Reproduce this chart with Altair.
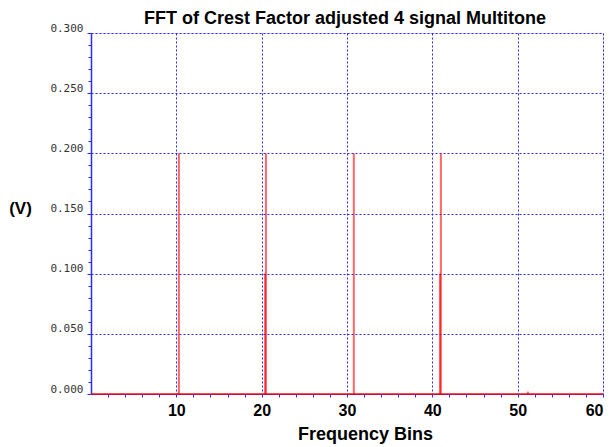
import altair as alt
import pandas as pd

# --- data ---
spike_freqs = [10.3, 20.5, 30.8, 41.0]
spike_amps = [0.2, 0.2, 0.2, 0.2]
side_freqs = [20.4, 40.9]
side_amps = [0.1, 0.1]
tiny_freqs = [51.2]
tiny_amps = [0.002]
x_ticks = [10, 20, 30, 40, 50, 60]
y_ticks = [0.0, 0.05, 0.1, 0.15, 0.2, 0.25, 0.3]
x_minor = [v for v in range(2, 61, 2) if v % 10 != 0]
y_minor = [round(i * 0.01, 2) for i in range(0, 31) if i % 5 != 0]

spikes = pd.DataFrame({
    "f": spike_freqs + side_freqs + tiny_freqs,
    "a": spike_amps + side_amps + tiny_amps,
})
baseline = pd.DataFrame({"x0": [0], "x1": [60], "y": [0.0]})

BLUE = "#2b2bff"
RED = "#ff0000"

xscale = alt.Scale(domain=[0, 60], nice=False, zero=True)
yscale = alt.Scale(domain=[0, 0.3], nice=False)

major_x = alt.Axis(values=x_ticks, title="Frequency Bins", grid=True, gridColor=BLUE,
                   gridDash=[2, 2], gridWidth=1, gridOpacity=1, domainColor=BLUE,
                   tickColor=BLUE, tickSize=3, labelFont="Liberation Sans",
                   labelFontSize=16, labelFontWeight="bold", labelColor="#000",
                   labelPadding=5, titleFont="Liberation Sans", titleFontSize=18,
                   titleFontWeight="bold", titleColor="#000", titlePadding=7,
                   titleX=274, titleAlign="center")
major_y = alt.Axis(values=y_ticks, format=".3f", title="(V)", grid=True, gridColor=BLUE,
                   gridDash=[2, 2], gridWidth=1, gridOpacity=1, domainColor=BLUE,
                   domainWidth=1.5, tickColor=BLUE, tickSize=4, labelFont="DejaVu Sans Mono",
                   labelFontSize=11, labelColor="#333", labelBaseline="bottom",
                   labelPadding=4, titleAngle=0, titleFont="Liberation Sans",
                   titleFontSize=17, titleFontWeight="bold", titleColor="#000",
                   titleX=-71, titleY=175, titleAlign="center", titleBaseline="middle")
minor_x = alt.Axis(values=x_minor, orient="bottom", labels=False, grid=False, domain=False,
                   ticks=True, tickColor=BLUE, tickSize=3, title=None)
minor_y = alt.Axis(values=y_minor, orient="left", labels=False, grid=False, domain=False,
                   ticks=True, tickColor=BLUE, tickSize=3, title=None)

base_rule = alt.Chart(baseline).mark_rule(color=RED, strokeWidth=2, opacity=0.7).encode(
    x=alt.X("x0:Q", scale=xscale, axis=minor_x),
    x2="x1:Q",
    y=alt.Y("y:Q", scale=yscale, axis=minor_y),
)

spike_rules = alt.Chart(spikes).mark_rule(color=RED, strokeWidth=2, opacity=0.6).encode(
    x=alt.X("f:Q", scale=xscale, axis=major_x),
    y=alt.Y("a:Q", scale=yscale, axis=major_y),
    y2=alt.datum(0),
)

chart = alt.layer(spike_rules, base_rule).resolve_axis(
    x="independent", y="independent"
).properties(
    width=512,
    height=361,
    autosize="none",
    padding={"left": 83, "top": 25, "right": 5, "bottom": 53},
    title=alt.TitleParams("FFT of Crest Factor adjusted 4 signal Multitone",
                          font="Liberation Sans", fontSize=18, fontWeight="bold",
                          color="#000", anchor="middle", offset=1, dx=-2, dy=7),
).configure_view(stroke=None).configure(background="white")

chart.save("out.html", embed_options={"renderer": "svg", "actions": False})
